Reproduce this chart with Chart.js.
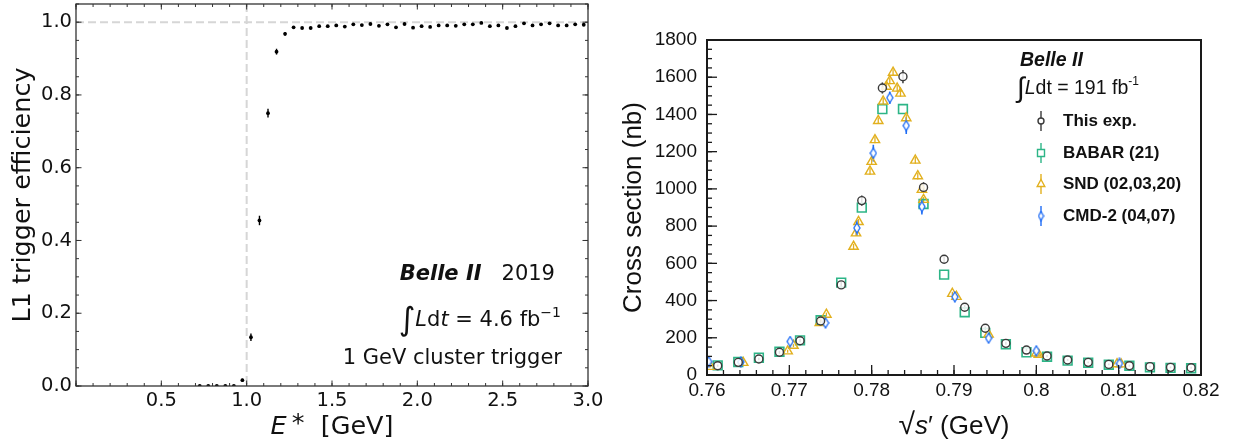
<!DOCTYPE html>
<html><head><meta charset="utf-8">
<script src="https://cdn.jsdelivr.net/npm/chart.js@4.4.1/dist/chart.umd.min.js"></script>
<style>
html,body{margin:0;padding:0;background:#fff;}
#wrap{position:relative;width:1236px;height:443px;overflow:hidden;background:#fff;}
canvas{position:absolute;top:0;}
#cL{left:0;} #cR{left:600px;}
.t{position:absolute;white-space:nowrap;color:#111;}
.dj{font-family:"DejaVu Sans",sans-serif;}
.ls{font-family:"Liberation Sans",Arial,sans-serif;}
.sup{position:relative;}
</style></head>
<body><div id="wrap">
<canvas id="cL" width="612" height="443"></canvas>
<canvas id="cR" width="636" height="443"></canvas>

<div class="t dj" style="right:681px;top:259px;font-size:21px;line-height:28px;"><b><i>Belle II</i></b>&nbsp;&nbsp; 2019</div>
<div class="t dj" style="right:675px;top:300px;font-size:21px;line-height:30px;"><span style="font-size:32px;position:relative;top:4px;">∫</span><i>L</i>d<i>t</i> = 4.6 fb<span class="sup" style="font-size:14px;top:-9px;">−1</span></div>
<div class="t dj" style="right:674px;top:343px;font-size:21px;line-height:28px;">1 GeV cluster trigger</div>
<div class="t dj" style="left:0;width:664px;text-align:center;top:411px;font-size:25.5px;line-height:28px;"><i>E</i>&thinsp;<span style="position:relative;top:-3px;">*</span>&nbsp;&nbsp;[GeV]</div>

<div class="t ls" style="left:1020px;top:47px;font-size:19.5px;line-height:24px;"><b><i>Belle II</i></b></div>
<div class="t ls" style="left:1017px;top:71px;font-size:19.5px;line-height:28px;"><span style="font-size:28px;position:relative;top:3px;">∫</span><i>L</i>dt = 191 fb<span class="sup" style="font-size:12px;top:-9px;">-1</span></div>
<div class="t ls" style="left:1063px;top:111px;font-size:17px;line-height:20px;font-weight:bold;">This exp.</div>
<div class="t ls" style="left:1063px;top:143px;font-size:17px;line-height:20px;font-weight:bold;">BABAR (21)</div>
<div class="t ls" style="left:1063px;top:174px;font-size:17px;line-height:20px;font-weight:bold;">SND (02,03,20)</div>
<div class="t ls" style="left:1063px;top:206px;font-size:17px;line-height:20px;font-weight:bold;">CMD-2 (04,07)</div>
<div class="t ls" style="left:707px;width:494px;text-align:center;top:408px;font-size:26px;line-height:32px;"><span style="font-size:30px;">√</span><i>s</i>′ (GeV)</div>
</div>
<script>
// ---------------- Left panel data ----------------
const effE = [0.725,0.775,0.825,0.875,0.925,0.975,1.025,1.075,1.125,1.175,1.225,
  1.275,1.325,1.375,1.425,1.475,1.525,1.575,1.625,1.675,1.725,1.775,1.825,1.875,1.925,1.975,
  2.025,2.075,2.125,2.175,2.225,2.275,2.325,2.375,2.425,2.475,2.525,2.575,2.625,2.675,2.725,
  2.775,2.825,2.875,2.925,2.975];
const effVal = [0.0,0.0,0.0,0.0,0.0,0.016,0.134,0.455,0.750,0.919,0.968,
  0.986,0.984,0.984,0.989,0.989,0.991,0.988,0.994,0.992,0.995,0.990,0.994,0.986,0.995,0.985,
  0.989,0.987,0.991,0.991,0.990,0.994,0.994,0.998,0.989,0.991,0.984,0.989,0.997,0.991,0.994,
  0.997,0.991,0.991,0.994,0.993];
const effErr = [0.002,0.002,0.002,0.002,0.002,0.004,0.010,0.013,0.012,0.008,0.005,
  0.003,0.003,0.003,0.003,0.003,0.003,0.003,0.003,0.003,0.003,0.003,0.003,0.003,0.003,0.003,
  0.003,0.003,0.003,0.003,0.003,0.003,0.003,0.003,0.003,0.003,0.003,0.003,0.003,0.003,0.003,
  0.003,0.003,0.003,0.003,0.003];
const xTicksL = [0.5,1.0,1.5,2.0,2.5,3.0];
const xTickLabelsL = ['0.5','1.0','1.5','2.0','2.5','3.0'];
const yTicksL = [0.0,0.2,0.4,0.6,0.8,1.0];
const yTickLabelsL = ['0.0','0.2','0.4','0.6','0.8','1.0'];
const refLineX = 1.0, refLineY = 1.0;

// ---------------- Right panel data ----------------
const thisX = [0.7613,0.7638,0.7663,0.7688,0.7713,0.7738,0.7763,0.7788,0.7813,0.7838,0.7863,0.7888,
  0.7913,0.7938,0.7963,0.7988,0.8013,0.8038,0.8063,0.8088,0.8113,0.8138,0.8163,0.8188];
const thisY = [50,68,86,122,184,290,484,937,1542,1603,1008,622,364,251,170,134,102,81,68,57,50,45,41,39];
const thisErr = [6,6,7,8,10,12,16,28,30,36,28,16,12,10,8,7,6,5,5,5,5,5,5,5];
const babarX = [0.7613,0.7638,0.7663,0.7688,0.7713,0.7738,0.7763,0.7788,0.7813,0.7838,0.7863,0.7888,
  0.7913,0.7938,0.7963,0.7988,0.8013,0.8038,0.8063,0.8088,0.8113,0.8138,0.8163,0.8188];
const babarY = [52,70,93,125,186,294,496,899,1429,1429,919,539,337,226,165,122,98,77,66,55,50,41,38,36];
const sndX = [0.7604,0.7644,0.7698,0.7705,0.7737,0.7745,0.7778,0.7781,0.7784,0.7798,0.7800,0.7804,
  0.7808,0.7814,0.7818,0.7822,0.7826,0.7831,0.7835,0.7842,0.7853,0.7856,0.7861,0.7863,0.7898,0.7903,
  0.7942,0.8000,0.8003,0.8098,0.8103];
const sndY = [45,66,128,158,280,325,690,762,823,1094,1146,1263,1366,1470,1550,1580,1625,1540,1513,1381,
  1153,1069,996,942,437,421,218,117,109,59,58];
const sndErr = [5,6,8,8,10,10,15,15,15,18,18,18,18,18,18,18,18,18,18,18,18,18,15,15,10,10,8,6,6,4,4];
const cmdX = [0.7602,0.7641,0.7701,0.7744,0.7782,0.7802,0.7822,0.7842,0.7861,0.7901,0.7942,0.8000,0.8101];
const cmdY = [72,70,180,280,790,1192,1490,1340,905,420,198,130,62];
const cmdErr = [14,12,16,16,43,45,33,45,43,15,18,10,8];
const xTicksR = [0.76,0.77,0.78,0.79,0.80,0.81,0.82];
const xTickLabelsR = ['0.76','0.77','0.78','0.79','0.8','0.81','0.82'];
const yTicksR = [0,200,400,600,800,1000,1200,1400,1600,1800];
const yTickLabelsR = ['0','200','400','600','800','1000','1200','1400','1600','1800'];
const legendNames = ['This exp.','BABAR (21)','SND (02,03,20)','CMD-2 (04,07)'];

// ---------------- helpers ----------------
const pts = (xs, ys) => xs.map((x, i) => ({x: x, y: ys[i]}));
const noPad = s => { s.paddingTop = 0; s.paddingBottom = 0; s.paddingLeft = 0; s.paddingRight = 0; };

const errorBars = {
  id: 'errorBars',
  beforeDatasetsDraw(chart) {
    const {ctx, scales: {x, y}, chartArea: a} = chart;
    ctx.save();
    ctx.beginPath(); ctx.rect(a.left, a.top, a.right - a.left, a.bottom - a.top); ctx.clip();
    chart.data.datasets.forEach(ds => {
      if (!ds.errors) return;
      ctx.strokeStyle = ds.errColor; ctx.lineWidth = ds.errWidth;
      ds.data.forEach((p, i) => {
        const e = ds.errors[i]; if (!e) return;
        const px = x.getPixelForValue(p.x);
        ctx.beginPath();
        ctx.moveTo(px, y.getPixelForValue(p.y - e));
        ctx.lineTo(px, y.getPixelForValue(p.y + e));
        ctx.stroke();
      });
    });
    ctx.restore();
  }
};

function drawTicks(ctx, scale, a, vals, len, sides, horizontal) {
  vals.forEach(v => {
    const p = scale.getPixelForValue(v);
    ctx.beginPath();
    if (horizontal) {
      if (sides.includes('b')) { ctx.moveTo(p, a.bottom); ctx.lineTo(p, a.bottom - len); }
      if (sides.includes('t')) { ctx.moveTo(p, a.top); ctx.lineTo(p, a.top + len); }
    } else {
      if (sides.includes('l')) { ctx.moveTo(a.left, p); ctx.lineTo(a.left + len, p); }
      if (sides.includes('r')) { ctx.moveTo(a.right, p); ctx.lineTo(a.right - len, p); }
    }
    ctx.stroke();
  });
}
function range(a, b, s) { const r = []; const n = Math.round((b - a) / s); for (let i = 0; i <= n; i++) r.push(a + i * s); return r; }

// ---------------- Left chart ----------------
const leftPlugin = {
  id: 'leftDecor',
  beforeDatasetsDraw(chart) {
    const {ctx, chartArea: a, scales: {x, y}} = chart;
    ctx.save();
    ctx.strokeStyle = '#d6d6d6'; ctx.lineWidth = 2; ctx.setLineDash([8, 4]);
    const py = y.getPixelForValue(refLineY);
    ctx.beginPath(); ctx.moveTo(a.left, py); ctx.lineTo(a.right, py); ctx.stroke();
    const px = x.getPixelForValue(refLineX);
    ctx.beginPath(); ctx.moveTo(px, a.top); ctx.lineTo(px, a.bottom); ctx.stroke();
    ctx.restore();
  },
  afterDraw(chart) {
    const {ctx, chartArea: a, scales: {x, y}} = chart;
    ctx.save();
    ctx.strokeStyle = '#333'; ctx.lineWidth = 1.3;
    ctx.strokeRect(a.left, a.top, a.right - a.left, a.bottom - a.top);
    ctx.lineWidth = 1;
    drawTicks(ctx, x, a, range(0, 3.0, 0.1), 3, 'bt', true);
    drawTicks(ctx, x, a, range(0, 3.0, 0.5), 5.5, 'bt', true);
    drawTicks(ctx, y, a, range(0, 1.05, 0.05), 3, 'lr', false);
    drawTicks(ctx, y, a, range(0, 1.0, 0.2), 5.5, 'lr', false);
    ctx.restore();
  }
};

new Chart(document.getElementById('cL'), {
  type: 'scatter',
  data: { datasets: [{
    data: pts(effE, effVal), errors: effErr, errColor: '#000', errWidth: 1.4,
    pointStyle: 'circle', pointRadius: 1.9, pointBackgroundColor: '#000', pointBorderWidth: 0
  }]},
  options: {
    responsive: false, animation: false, devicePixelRatio: 1,
    layout: { padding: { left: 0, right: 24, top: 2, bottom: 0 } },
    plugins: { legend: { display: false }, tooltip: { enabled: false } },
    scales: {
      x: { type: 'linear', min: 0, max: 3.0, bounds: 'data',
        grid: { display: false, drawTicks: false }, border: { display: false },
        afterBuildTicks: s => { s.ticks = xTicksL.map(v => ({value: v})); },
        afterFit: s => { s.height = 57; noPad(s); },
        ticks: { autoSkip: false, maxRotation: 0, padding: 3, color: '#111',
          font: { family: 'DejaVu Sans', size: 19.5 },
          callback: (v, i) => xTickLabelsL[i] }
      },
      y: { type: 'linear', min: 0, max: 1.05, bounds: 'data',
        grid: { display: false, drawTicks: false }, border: { display: false },
        afterBuildTicks: s => { s.ticks = yTicksL.map(v => ({value: v})); },
        afterFit: s => { s.width = 76; noPad(s); },
        title: { display: true, text: 'L1 trigger efficiency', color: '#111',
          font: { family: 'DejaVu Sans', size: 25.5 }, padding: { top: 8, bottom: 0 } },
        ticks: { autoSkip: false, padding: 4, color: '#111',
          font: { family: 'DejaVu Sans', size: 19.5 },
          callback: (v, i) => yTickLabelsL[i] }
      }
    }
  },
  plugins: [errorBars, leftPlugin]
});

// ---------------- Right chart ----------------
const colThis = '#3a3a3a', colBabar = '#2db587', colSnd = '#e2b01e', colCmd = '#1e6cf5';
function diamondImg(color, w, h) {
  const c = document.createElement('canvas'); c.width = w; c.height = h;
  const g = c.getContext('2d');
  g.beginPath(); g.moveTo(w / 2, 1); g.lineTo(w - 1, h / 2); g.lineTo(w / 2, h - 1); g.lineTo(1, h / 2); g.closePath();
  g.fillStyle = '#fff'; g.fill(); g.strokeStyle = color; g.lineWidth = 1.3; g.stroke();
  return c;
}
const diamond = diamondImg(colCmd, 8, 12);
const diamondSmall = diamondImg(colCmd, 7, 11);

const rightPlugin = {
  id: 'rightDecor',
  afterDraw(chart) {
    const {ctx, chartArea: a, scales: {x, y}} = chart;
    ctx.save();
    ctx.strokeStyle = '#1a1a1a'; ctx.lineWidth = 1.3;
    drawTicks(ctx, x, a, range(0.76, 0.82, 0.002), 5, 'b', true);
    drawTicks(ctx, x, a, xTicksR, 10, 'b', true);
    drawTicks(ctx, y, a, range(0, 1800, 50), 5, 'l', false);
    drawTicks(ctx, y, a, yTicksR, 10, 'l', false);
    ctx.lineWidth = 2;
    ctx.strokeRect(a.left, a.top, a.right - a.left, a.bottom - a.top);
    // legend markers
    const lx = 441, lys = [121, 153, 184, 216];
    const cols = [colThis, colBabar, colSnd, colCmd];
    lys.forEach((ly, i) => {
      ctx.strokeStyle = cols[i]; ctx.lineWidth = 1.4;
      ctx.beginPath(); ctx.moveTo(lx, ly - 10); ctx.lineTo(lx, ly + 10); ctx.stroke();
      ctx.fillStyle = '#fff';
      ctx.beginPath();
      if (i === 0) { ctx.arc(lx, ly, 3, 0, Math.PI * 2); ctx.fill(); ctx.stroke(); }
      else if (i === 1) { ctx.rect(lx - 3.5, ly - 3.5, 7, 7); ctx.fill(); ctx.stroke(); }
      else if (i === 2) { ctx.moveTo(lx, ly - 4.5); ctx.lineTo(lx + 3.8, ly + 2.5); ctx.lineTo(lx - 3.8, ly + 2.5); ctx.closePath(); ctx.fill(); ctx.stroke(); }
      else { ctx.drawImage(diamondSmall, lx - 3.5, ly - 5.5); }
    });
    ctx.restore();
  }
};

new Chart(document.getElementById('cR'), {
  type: 'scatter',
  data: { datasets: [
    { label: legendNames[0], data: pts(thisX, thisY), errors: thisErr, errColor: colThis, errWidth: 1.5,
      pointStyle: 'circle', pointRadius: 4, pointBorderColor: colThis, pointBorderWidth: 1.4,
      pointBackgroundColor: 'rgba(255,255,255,0.85)' },
    { label: legendNames[3], data: pts(cmdX, cmdY), errors: cmdErr, errColor: colCmd, errWidth: 1.6,
      pointStyle: diamond, pointRadius: 5 },
    { label: legendNames[2], data: pts(sndX, sndY), errors: sndErr, errColor: colSnd, errWidth: 1.3,
      pointStyle: 'triangle', pointRadius: 5.4, pointBorderColor: colSnd, pointBorderWidth: 1.4,
      pointBackgroundColor: 'rgba(0,0,0,0)' },
    { label: legendNames[1], data: pts(babarX, babarY),
      pointStyle: 'rect', pointRadius: 6.2, pointBorderColor: colBabar, pointBorderWidth: 1.6,
      pointBackgroundColor: 'rgba(0,0,0,0)' }
  ]},
  options: {
    responsive: false, animation: false, devicePixelRatio: 1,
    layout: { padding: { left: 0, right: 35, top: 40, bottom: 0 } },
    plugins: { legend: { display: false }, tooltip: { enabled: false } },
    scales: {
      x: { type: 'linear', min: 0.76, max: 0.82, bounds: 'data',
        grid: { display: false, drawTicks: false }, border: { display: false },
        afterBuildTicks: s => { s.ticks = xTicksR.map(v => ({value: v})); },
        afterFit: s => { s.height = 68; noPad(s); },
        ticks: { autoSkip: false, maxRotation: 0, padding: 4, color: '#111',
          font: { family: 'Liberation Sans', size: 19 },
          callback: (v, i) => xTickLabelsR[i] }
      },
      y: { type: 'linear', min: 0, max: 1800, bounds: 'data',
        grid: { display: false, drawTicks: false }, border: { display: false },
        afterBuildTicks: s => { s.ticks = yTicksR.map(v => ({value: v})); },
        afterFit: s => { s.width = 107; noPad(s); },
        title: { display: true, text: 'Cross section (nb)', color: '#111',
          font: { family: 'Liberation Sans', size: 26 }, padding: { top: 18, bottom: 0 } },
        ticks: { autoSkip: false, padding: 10, color: '#111',
          font: { family: 'Liberation Sans', size: 19 },
          callback: (v, i) => yTickLabelsR[i] }
      }
    }
  },
  plugins: [errorBars, rightPlugin]
});
</script>
</body></html>
